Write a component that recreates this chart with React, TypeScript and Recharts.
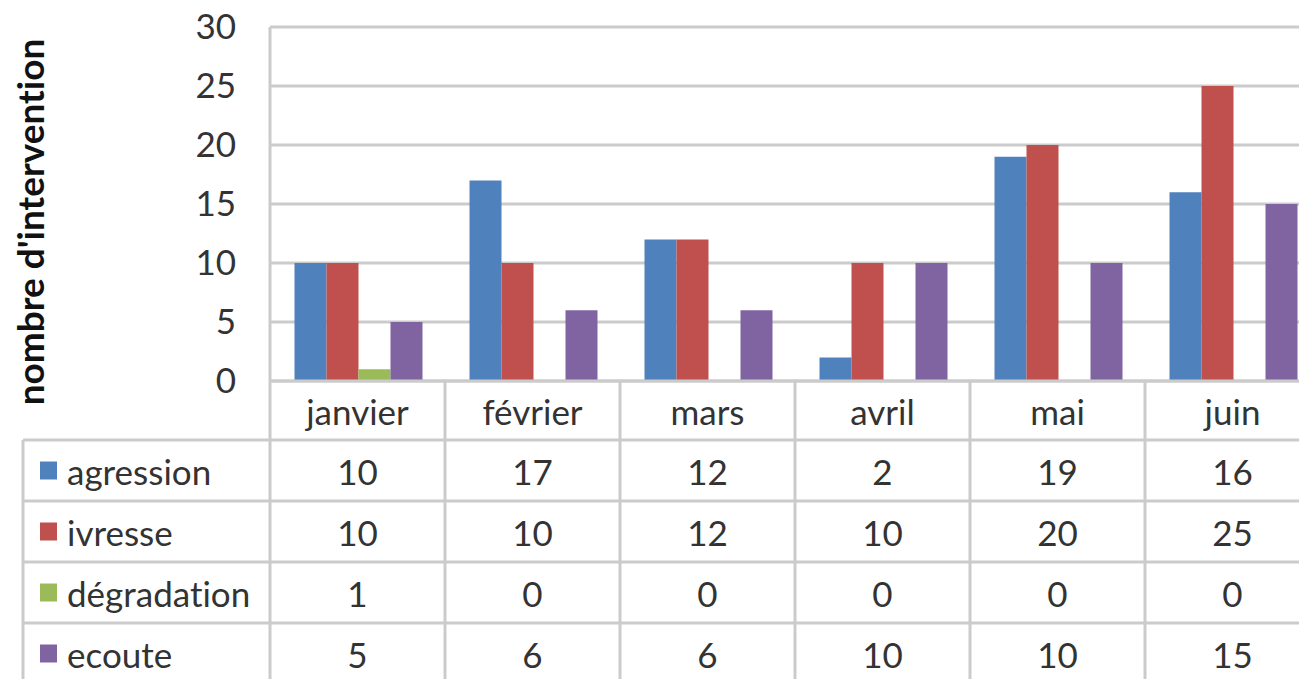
import React from "react";
import { Bar, BarChart, CartesianGrid, XAxis, YAxis } from "recharts";

const months = ["janvier", "février", "mars", "avril", "mai", "juin"];
const agression = [10, 17, 12, 2, 19, 16];
const ivresse = [10, 10, 12, 10, 20, 25];
const degradation = [1, 0, 0, 0, 0, 0];
const ecoute = [5, 6, 6, 10, 10, 15];
const yTicks = [0, 5, 10, 15, 20, 25, 30];

const series = [
  { key: "agression", name: "agression", color: "#4F81BD", values: agression },
  { key: "ivresse", name: "ivresse", color: "#C0504D", values: ivresse },
  { key: "degradation", name: "dégradation", color: "#9BBB59", values: degradation },
  { key: "ecoute", name: "ecoute", color: "#8064A2", values: ecoute },
];

const data = months.map((month, i) => ({
  month,
  agression: agression[i],
  ivresse: ivresse[i],
  degradation: degradation[i],
  ecoute: ecoute[i],
}));

// layout
const W = 1330;
const H = 679;
const TOP = 27;
const RIGHT = 10;
const Y_W = 270;
const X_H = 298;
const CELL_W = (W - RIGHT - Y_W) / months.length;
const HEADER_H = 59;
const ROW_H = 61;
const LEGEND_LEFT = 23;

const FONT = "Lato, 'Open Sans', sans-serif";
const TEXT = "#333";
const GRID = "#cbcbcb";
const FS = 35;
const NO_LIG = { fontVariantLigatures: "none", fontFeatureSettings: '"liga" 0, "clig" 0, "calt" 0, "dlig" 0' } as const;

function TableTick(props: any) {
  const { x, y, payload, index } = props;
  const left = x - CELL_W / 2;
  const right = x + CELL_W / 2;
  const bottom = y + HEADER_H + ROW_H * series.length + 20;
  const lines: React.ReactNode[] = [];
  for (let r = 0; r <= series.length; r++) {
    const ly = y + HEADER_H + r * ROW_H;
    lines.push(<line key={"h" + r} x1={left} x2={right} y1={ly} y2={ly} stroke={GRID} strokeWidth={3} />);
  }
  const i = index ?? months.indexOf(payload.value);
  return (
    <g>
      {lines}
      <line x1={right} x2={right} y1={y} y2={bottom} stroke={GRID} strokeWidth={3} />
      {i === 0 && <line x1={left} x2={left} y1={y} y2={bottom} stroke={GRID} strokeWidth={3} />}
      <text x={x} y={y + HEADER_H / 2} textAnchor="middle" dominantBaseline="central" fill={TEXT} fontSize={FS} fontFamily={FONT} style={NO_LIG}>
        {payload.value}
      </text>
      {series.map((s, r) => (
        <text
          key={s.key}
          x={x}
          y={y + HEADER_H + r * ROW_H + ROW_H / 2}
          textAnchor="middle"
          dominantBaseline="central"
          fill={TEXT}
          fontSize={FS}
          fontFamily={FONT}
        >
          {s.values[i]}
        </text>
      ))}
      {i === 0 && (
        <g>
          <line x1={LEGEND_LEFT} x2={LEGEND_LEFT} y1={y + HEADER_H} y2={bottom} stroke={GRID} strokeWidth={3} />
          {series.map((s, r) => {
            const ly = y + HEADER_H + r * ROW_H;
            return (
              <g key={s.key}>
                <line x1={LEGEND_LEFT} x2={left} y1={ly} y2={ly} stroke={GRID} strokeWidth={3} />
                <rect x={40} y={ly + ROW_H / 2 - 9} width={17} height={18} fill={s.color} />
                <text
                  x={67}
                  y={ly + ROW_H / 2}
                  dominantBaseline="central"
                  fill={TEXT}
                  fontSize={FS}
                  fontFamily={FONT}
                  style={NO_LIG}
                >
                  {s.name}
                </text>
              </g>
            );
          })}
        </g>
      )}
    </g>
  );
}

export default function App() {
  return (
    <div
      style={{
        position: "absolute",
        left: 0,
        top: 0,
        width: 1299,
        height: 679,
        overflow: "hidden",
        background: "#fff",
        ...NO_LIG,
      }}
    >
      <BarChart
        width={W}
        height={H}
        data={data}
        margin={{ top: TOP, right: RIGHT, bottom: 0, left: 0 }}
        barCategoryGap="14%"
        barGap={0}
      >
        <CartesianGrid vertical={false} stroke={GRID} strokeWidth={3} />
        <XAxis
          dataKey="month"
          height={X_H}
          interval={0}
          tickLine={false}
          tickSize={0}
          tickMargin={0}
          axisLine={{ stroke: GRID, strokeWidth: 3 }}
          tick={<TableTick />}
        />
        <YAxis
          width={Y_W}
          domain={[0, 30]}
          ticks={yTicks}
          interval={0}
          tickLine={false}
          tickMargin={28}
          axisLine={{ stroke: GRID, strokeWidth: 3 }}
          tick={{ fill: TEXT, fontSize: FS, fontFamily: FONT }}
          label={{
            content: (p: any) => {
              const vb = p.viewBox || { x: 0, y: TOP, height: 354 };
              const cx = vb.x + 29;
              const cy = vb.y + vb.height / 2 + 18;
              return (
                <text
                  x={cx}
                  y={cy}
                  transform={`rotate(-90 ${cx} ${cy})`}
                  textAnchor="middle"
                  dominantBaseline="central"
                  fill="#111"
                  fontSize={37}
                  fontWeight="bold"
                  fontFamily={FONT}
                  style={NO_LIG}
                >
                  nombre d'intervention
                </text>
              );
            },
          }}
        />
        {series.map((s) => (
          <Bar key={s.key} dataKey={s.key} name={s.name} fill={s.color} isAnimationActive={false} />
        ))}
      </BarChart>
    </div>
  );
}
